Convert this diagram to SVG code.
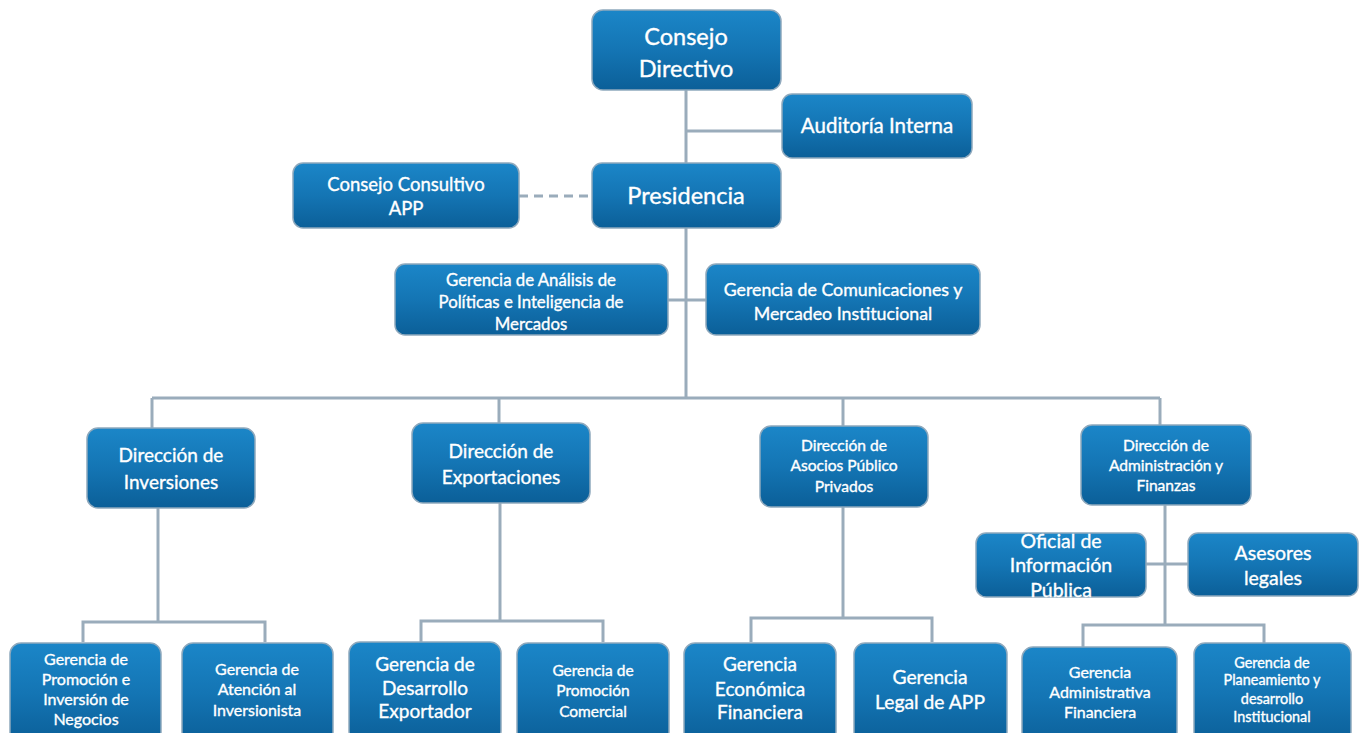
<svg xmlns="http://www.w3.org/2000/svg" width="1360" height="733" viewBox="0 0 1360 733">
<defs>
<linearGradient id="bg" x1="0" y1="0" x2="0" y2="1">
<stop offset="0" stop-color="#1b86c8"/>
<stop offset="0.5" stop-color="#1475b4"/>
<stop offset="1" stop-color="#0b5f98"/>
</linearGradient>
<style>
.box{fill:url(#bg);stroke:#8fa9bd;stroke-width:1.5}
.t{fill:#ffffff;stroke:#ffffff;stroke-width:0.35;font-family:Lato,"Open Sans","Liberation Sans",sans-serif;text-anchor:middle}
.c{stroke:#9aacbb;stroke-width:3;fill:none}
</style>
</defs>
<rect width="1360" height="733" fill="#ffffff"/>
<g id="connectors">
<path class="c" d="M686 90 V398"/>
<path class="c" d="M686 131 H782"/>
<path class="c" d="M519 196 H592" stroke-dasharray="9 6"/>
<path class="c" d="M668 300 H706"/>
<path class="c" d="M152 398 H1160"/>
<path class="c" d="M152 398 V428"/>
<path class="c" d="M499 398 V423"/>
<path class="c" d="M843 398 V426"/>
<path class="c" d="M1160 398 V425"/>
<path class="c" d="M158 508 V622"/>
<path class="c" d="M83 642 V622 H265 V642"/>
<path class="c" d="M500 503 V621"/>
<path class="c" d="M421 642 V621 H603 V642"/>
<path class="c" d="M843 507 V618"/>
<path class="c" d="M751 642 V618 H932 V642"/>
<path class="c" d="M1165 505 V625"/>
<path class="c" d="M1146 564 H1188"/>
<path class="c" d="M1083 647 V625 H1264 V643"/>
</g>
<g id="consejo-directivo"><rect class="box" x="592" y="10" width="189" height="80" rx="11"/>
<text class="t" x="686" y="45" font-size="23.5">Consejo</text><text class="t" x="686" y="77" font-size="23.5">Directivo</text></g>
<g id="auditoria"><rect class="box" x="782" y="94" width="190" height="64" rx="10"/>
<text class="t" x="877" y="133" font-size="20.5">Auditoría Interna</text></g>
<g id="presidencia"><rect class="box" x="592" y="163" width="189" height="65" rx="10"/>
<text class="t" x="686" y="204" font-size="23.5">Presidencia</text></g>
<g id="consejo-consultivo"><rect class="box" x="293" y="163" width="226" height="65" rx="10"/>
<text class="t" x="406" y="191" font-size="18.5">Consejo Consultivo</text><text class="t" x="406" y="215" font-size="18.5">APP</text></g>
<g id="gerencia-analisis"><rect class="box" x="395" y="264" width="273" height="71" rx="10"/>
<text class="t" x="531" y="286" font-size="16.8">Gerencia de Análisis de</text><text class="t" x="531" y="308" font-size="16.8">Políticas e Inteligencia de</text><text class="t" x="531" y="330" font-size="16.8">Mercados</text></g>
<g id="gerencia-comunicaciones"><rect class="box" x="706" y="264" width="274" height="71" rx="10"/>
<text class="t" x="843" y="296" font-size="17.8">Gerencia de  Comunicaciones y</text><text class="t" x="843" y="320" font-size="17.8">Mercadeo Institucional</text></g>
<g id="dir-inversiones"><rect class="box" x="87" y="428" width="168" height="80" rx="11"/>
<text class="t" x="171" y="462" font-size="19">Dirección de</text><text class="t" x="171" y="489" font-size="19">Inversiones</text></g>
<g id="dir-exportaciones"><rect class="box" x="412" y="423" width="178" height="80" rx="11"/>
<text class="t" x="501" y="458" font-size="19">Dirección de</text><text class="t" x="501" y="484" font-size="19">Exportaciones</text></g>
<g id="dir-asocios"><rect class="box" x="760" y="426" width="168" height="81" rx="11"/>
<text class="t" x="844" y="451" font-size="15.6">Dirección de</text><text class="t" x="844" y="471" font-size="15.6">Asocios Público</text><text class="t" x="844" y="492" font-size="15.6">Privados</text></g>
<g id="dir-administracion"><rect class="box" x="1081" y="425" width="170" height="80" rx="11"/>
<text class="t" x="1166" y="451" font-size="15.6">Dirección de</text><text class="t" x="1166" y="471" font-size="15.6">Administración y</text><text class="t" x="1166" y="491" font-size="15.6">Finanzas</text></g>
<g id="oficial"><rect class="box" x="976" y="533" width="170" height="64" rx="10"/>
<text class="t" x="1061" y="548" font-size="19.5">Oficial de</text><text class="t" x="1061" y="572" font-size="19.5">Información</text><text class="t" x="1061" y="597" font-size="19.5">Pública</text></g>
<g id="asesores"><rect class="box" x="1188" y="533" width="170" height="63" rx="10"/>
<text class="t" x="1273" y="560" font-size="19.5">Asesores</text><text class="t" x="1273" y="585" font-size="19.5">legales</text></g>
<g id="ger-promocion-inversion"><rect class="box" x="10" y="643" width="151" height="100" rx="11"/>
<text class="t" x="86" y="665" font-size="16">Gerencia de</text><text class="t" x="86" y="685" font-size="16">Promoción e</text><text class="t" x="86" y="705" font-size="16">Inversión de</text><text class="t" x="86" y="725" font-size="16">Negocios</text></g>
<g id="ger-atencion"><rect class="box" x="182" y="643" width="151" height="100" rx="11"/>
<text class="t" x="257" y="675" font-size="16">Gerencia de</text><text class="t" x="257" y="695" font-size="16">Atención al</text><text class="t" x="257" y="716" font-size="16">Inversionista</text></g>
<g id="ger-desarrollo-exportador"><rect class="box" x="349" y="642" width="152" height="100" rx="11"/>
<text class="t" x="425" y="671" font-size="19">Gerencia de</text><text class="t" x="425" y="695" font-size="19">Desarrollo</text><text class="t" x="425" y="718" font-size="19">Exportador</text></g>
<g id="ger-promocion-comercial"><rect class="box" x="517" y="643" width="152" height="100" rx="11"/>
<text class="t" x="593" y="676" font-size="15.5">Gerencia de</text><text class="t" x="593" y="696" font-size="15.5">Promoción</text><text class="t" x="593" y="717" font-size="15.5">Comercial</text></g>
<g id="ger-economica"><rect class="box" x="684" y="643" width="152" height="100" rx="11"/>
<text class="t" x="760" y="671" font-size="19">Gerencia</text><text class="t" x="760" y="696" font-size="19">Económica</text><text class="t" x="760" y="719" font-size="19">Financiera</text></g>
<g id="ger-legal"><rect class="box" x="854" y="643" width="153" height="100" rx="11"/>
<text class="t" x="930" y="684" font-size="19.3">Gerencia</text><text class="t" x="930" y="709" font-size="19.3">Legal de APP</text></g>
<g id="ger-administrativa"><rect class="box" x="1022" y="647" width="155" height="100" rx="11"/>
<text class="t" x="1100" y="678" font-size="16">Gerencia</text><text class="t" x="1100" y="698" font-size="16">Administrativa</text><text class="t" x="1100" y="718" font-size="16">Financiera</text></g>
<g id="ger-planeamiento"><rect class="box" x="1194" y="643" width="157" height="100" rx="11"/>
<text class="t" x="1272" y="668" font-size="14.4">Gerencia de</text><text class="t" x="1272" y="685" font-size="14.4">Planeamiento y</text><text class="t" x="1272" y="704" font-size="14.4">desarrollo</text><text class="t" x="1272" y="722" font-size="14.4">Institucional</text></g>
</svg>
